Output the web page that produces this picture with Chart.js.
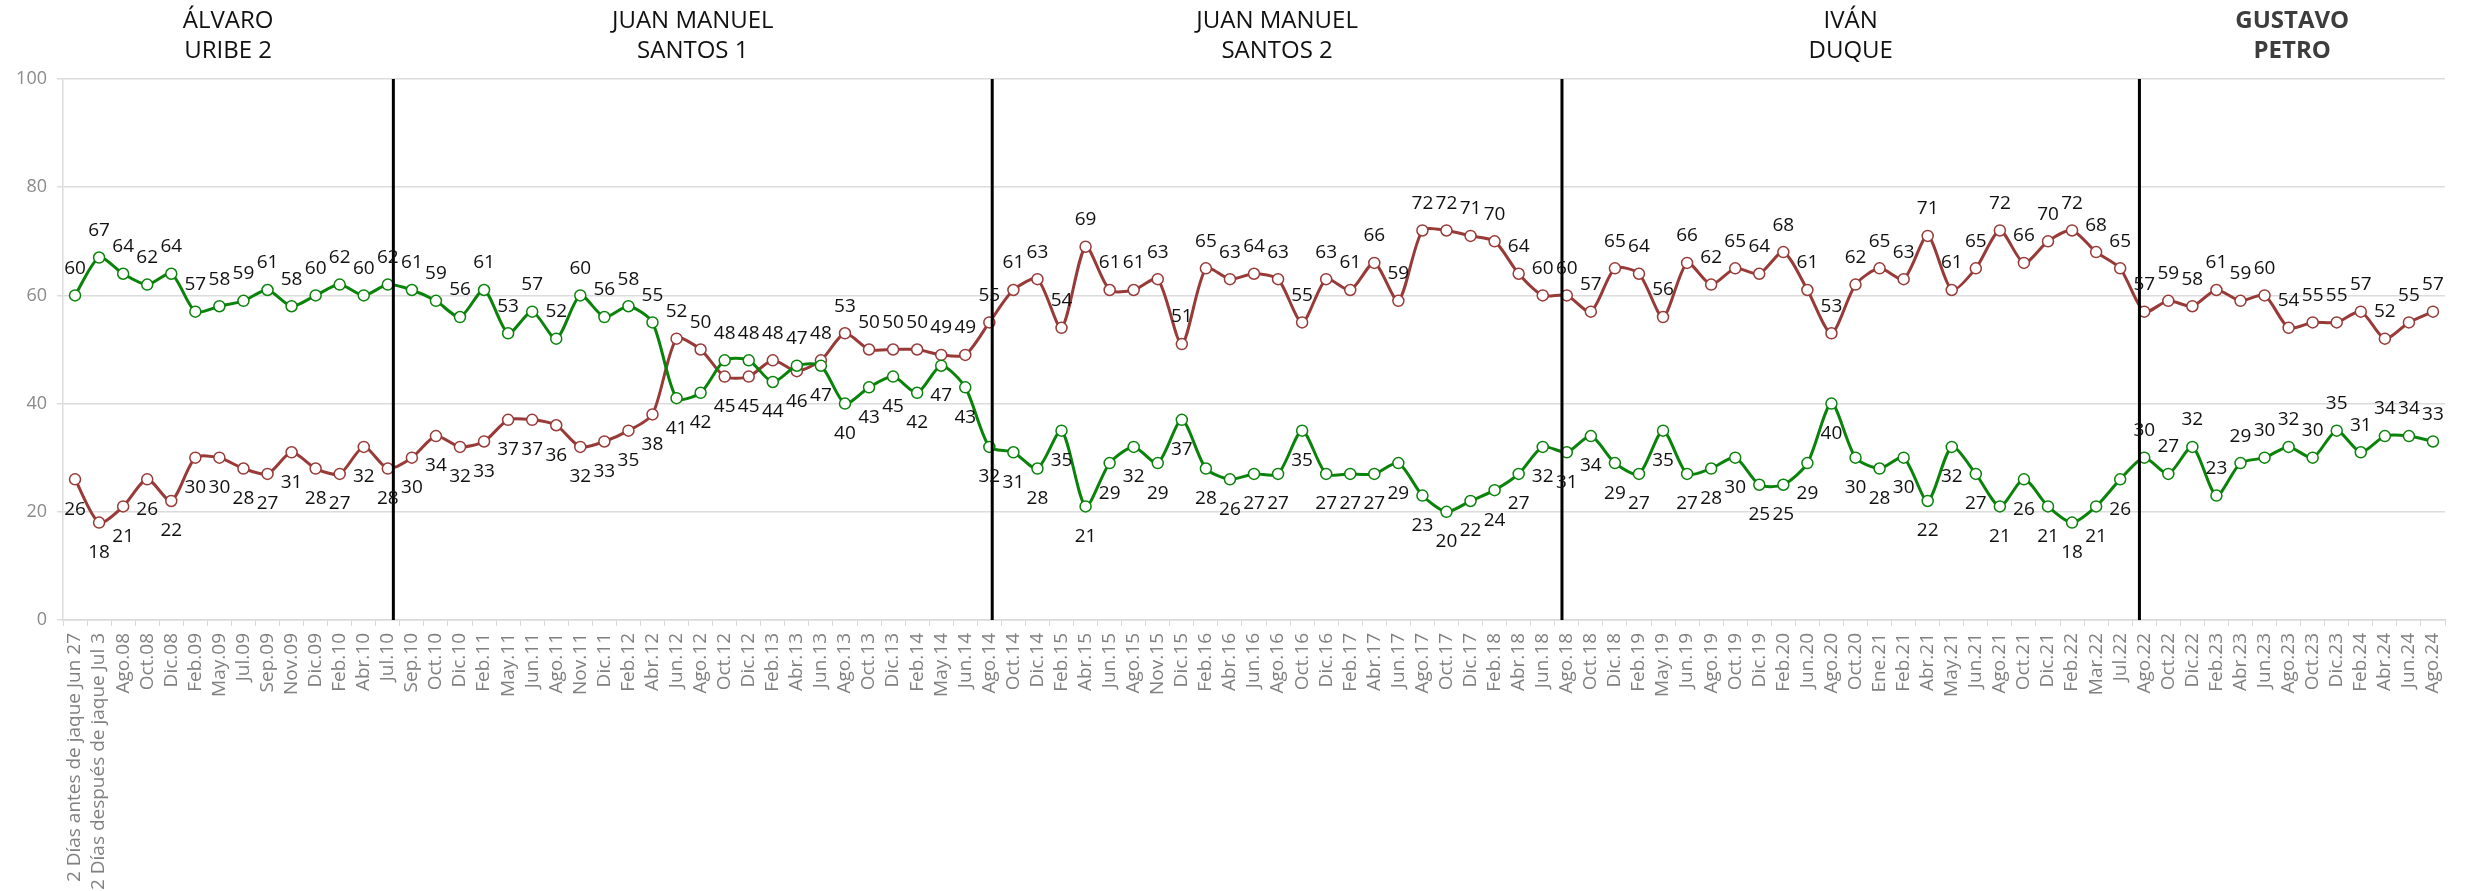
<!DOCTYPE html>
<html>
<head>
<meta charset="utf-8">
<script src="https://cdn.jsdelivr.net/npm/chart.js@4"></script>
<style>
  html, body { margin: 0; padding: 0; background: #fff; }
  canvas { display: block; }
</style>
</head>
<body>
<canvas id="chart" width="2470" height="891"></canvas>
<script>
// fechas de medición
const labels = [
  "2 Días antes de jaque Jun 27", "2 Días después de jaque Jul 3",
  "Ago.08", "Oct.08", "Dic.08", "Feb.09", "May.09", "Jul.09", "Sep.09", "Nov.09", "Dic.09",
  "Feb.10", "Abr.10", "Jul.10", "Sep.10", "Oct.10", "Dic.10",
  "Feb.11", "May.11", "Jun.11", "Ago.11", "Nov.11", "Dic.11",
  "Feb.12", "Abr.12", "Jun.12", "Ago.12", "Oct.12", "Dic.12",
  "Feb.13", "Abr.13", "Jun.13", "Ago.13", "Oct.13", "Dic.13",
  "Feb.14", "May.14", "Jun.14", "Ago.14", "Oct.14", "Dic.14",
  "Feb.15", "Abr.15", "Jun.15", "Ago.15", "Nov.15", "Dic.15",
  "Feb.16", "Abr.16", "Jun.16", "Ago.16", "Oct.16", "Dic.16",
  "Feb.17", "Abr.17", "Jun.17", "Ago.17", "Oct.17", "Dic.17",
  "Feb.18", "Abr.18", "Jun.18", "Ago.18", "Oct.18", "Dic.18",
  "Feb.19", "May.19", "Jun.19", "Ago.19", "Oct.19", "Dic.19",
  "Feb.20", "Jun.20", "Ago.20", "Oct.20",
  "Ene.21", "Feb.21", "Abr.21", "May.21", "Jun.21", "Ago.21", "Oct.21", "Dic.21",
  "Feb.22", "Mar.22", "Jul.22", "Ago.22", "Oct.22", "Dic.22",
  "Feb.23", "Abr.23", "Jun.23", "Ago.23", "Oct.23", "Dic.23",
  "Feb.24", "Abr.24", "Jun.24", "Ago.24"
];

// aprobación (verde)
const aprueba = [
  60, 67, 64, 62, 64, 57, 58, 59, 61, 58, 60, 62, 60, 62,
  61, 59, 56, 61, 53, 57, 52, 60, 56, 58, 55, 41, 42, 48, 48, 44, 47, 47, 40, 43, 45, 42, 47, 43, 32,
  31, 28, 35, 21, 29, 32, 29, 37, 28, 26, 27, 27, 35, 27, 27, 27, 29, 23, 20, 22, 24, 27, 32,
  31, 34, 29, 27, 35, 27, 28, 30, 25, 25, 29, 40, 30, 28, 30, 22, 32, 27, 21, 26, 21, 18, 21, 26,
  30, 27, 32, 23, 29, 30, 32, 30, 35, 31, 34, 34, 33
];

// desaprobación (rojo)
const desaprueba = [
  26, 18, 21, 26, 22, 30, 30, 28, 27, 31, 28, 27, 32, 28,
  30, 34, 32, 33, 37, 37, 36, 32, 33, 35, 38, 52, 50, 45, 45, 48, 46, 48, 53, 50, 50, 50, 49, 49, 55,
  61, 63, 54, 69, 61, 61, 63, 51, 65, 63, 64, 63, 55, 63, 61, 66, 59, 72, 72, 71, 70, 64, 60,
  60, 57, 65, 64, 56, 66, 62, 65, 64, 68, 61, 53, 62, 65, 63, 71, 61, 65, 72, 66, 70, 72, 68, 65,
  57, 59, 58, 61, 59, 60, 54, 55, 55, 57, 52, 55, 57
];

const yTicks = [0, 20, 40, 60, 80, 100];

// gobiernos y la medición donde cambia el periodo
const gobiernos = [
  ["ÁLVARO", "URIBE 2"],
  ["JUAN MANUEL", "SANTOS 1"],
  ["JUAN MANUEL", "SANTOS 2"],
  ["IVÁN", "DUQUE"],
  ["GUSTAVO", "PETRO"]
];
const cambios = ["Jul.10", "Ago.14", "Ago.18", "Ago.22"];

const FONT = "'Open Sans', 'Noto Sans', sans-serif";
const VERDE = "#0a830a";
const ROJO = "#983a37";

// posiciones x de las líneas divisorias
function divisiones(chart) {
  const x = chart.scales.x;
  const paso = x.getPixelForValue(1) - x.getPixelForValue(0);
  const ajuste = [0.23, 0.12, -0.2, -0.2];
  return cambios.map((c, i) => x.getPixelForValue(labels.indexOf(c)) + ajuste[i] * paso);
}

const periodos = {
  id: "periodos",
  afterDatasetsDraw(chart) {
    const { ctx, chartArea } = chart;
    const xs = divisiones(chart);
    ctx.save();
    ctx.strokeStyle = "#000";
    ctx.lineWidth = 3;
    xs.forEach((x) => {
      ctx.beginPath();
      ctx.moveTo(x, chartArea.top);
      ctx.lineTo(x, chartArea.bottom);
      ctx.stroke();
    });

    const bordes = [chartArea.left, ...xs, chartArea.right];
    ctx.textAlign = "center";
    ctx.textBaseline = "middle";
    gobiernos.forEach((g, i) => {
      const cx = (bordes[i] + bordes[i + 1]) / 2;
      const ultimo = i === gobiernos.length - 1;
      ctx.font = (ultimo ? "bold " : "") + "24px " + FONT;
      ctx.fillStyle = ultimo ? "#3d3d3d" : "#111";
      ctx.fillText(g[0], cx, 21);
      ctx.fillText(g[1], cx, 51);
    });
    ctx.restore();
  }
};

// etiquetas de valores
const valores = {
  id: "valores",
  afterDatasetsDraw(chart) {
    const { ctx } = chart;
    const inicioPetro = labels.indexOf("Ago.22");
    ctx.save();
    ctx.font = "19px " + FONT;
    ctx.fillStyle = "#111";
    ctx.textAlign = "center";
    ctx.textBaseline = "middle";
    chart.data.datasets.forEach((ds, di) => {
      const otro = chart.data.datasets[1 - di].data;
      const meta = chart.getDatasetMeta(di);
      meta.data.forEach((pt, i) => {
        const v = ds.data[i];
        const arriba = i >= inicioPetro || v >= otro[i];
        ctx.fillText(String(v), pt.x, arriba ? pt.y - 27 : pt.y + 30);
      });
    });
    ctx.restore();
  }
};

const serie = (label, data, color) => ({
  label,
  data,
  borderColor: color,
  borderWidth: 3,
  pointRadius: 5.5,
  pointBorderWidth: 1.5,
  pointBackgroundColor: "#fff",
  pointBorderColor: color,
  tension: 0.25,
  clip: false
});

new Chart(document.getElementById("chart"), {
  type: "line",
  data: {
    labels,
    datasets: [
      serie("Aprueba", aprueba, VERDE),
      serie("Desaprueba", desaprueba, ROJO)
    ]
  },
  options: {
    responsive: false,
    animation: false,
    devicePixelRatio: 1,
    layout: { padding: { top: 79, right: 25, left: 0, bottom: 0 } },
    plugins: {
      legend: { display: false },
      tooltip: { enabled: false }
    },
    scales: {
      x: {
        offset: true,
        afterFit(scale) { scale.height = 271; },
        grid: {
          offset: true,
          drawOnChartArea: false,
          tickLength: 6,
          color: "#d9d9d9"
        },
        border: { color: "#d9d9d9", width: 1.5 },
        ticks: {
          autoSkip: false,
          minRotation: 90,
          maxRotation: 90,
          padding: 7,
          color: "#808080",
          font: { family: FONT, size: 19 }
        }
      },
      y: {
        min: 0,
        max: 100,
        afterFit(scale) { scale.width = 63; },
        afterBuildTicks(scale) { scale.ticks = yTicks.map((v) => ({ value: v })); },
        grid: { color: "#dcdcdc", lineWidth: 1.5, tickLength: 6 },
        border: { color: "#dcdcdc", width: 1.5 },
        ticks: {
          padding: 10,
          color: "#8a8a8a",
          font: { family: FONT, size: 18 }
        }
      }
    }
  },
  plugins: [periodos, valores]
});
</script>
</body>
</html>
